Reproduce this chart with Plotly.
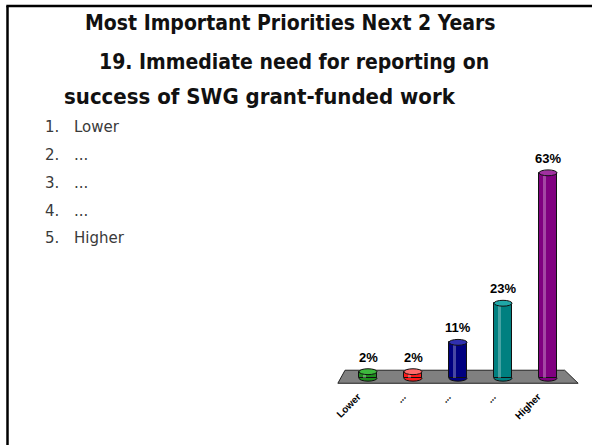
import plotly.graph_objects as go

categories = ["Lower", "...", "...", "...", "Higher"]
values = [2, 2, 11, 23, 63]
value_labels = ["2%", "2%", "11%", "23%", "63%"]
bar_colors = ["#1E8C1E", "#FF1A1A", "#000080", "#008080", "#800080"]
cap_colors = ["#3DB83D", "#FF6A6A", "#3030B0", "#20A8A8", "#A030A0"]
title_lines = ["Most Important Priorities Next 2 Years",
               "19. Immediate need for reporting on",
               "success of SWG grant-funded work"]
list_numbers = ["1.", "2.", "3.", "4.", "5."]
list_items = ["Lower", "...", "...", "...", "Higher"]

W, H = 592, 445
ML, MR, MT, MB = 332, 8, 150, 57.2
PW, PH = W - ML - MR, H - MT - MB


def px(xp):
    return (xp - ML) / PW


def py(yp):
    return (H - MB - yp) / PH


xs = list(range(len(categories)))
fig = go.Figure()
fig.add_trace(go.Bar(
    x=xs, y=values, width=0.4,
    marker=dict(color=bar_colors, line=dict(color="#111111", width=1)),
    hoverinfo="skip", showlegend=False,
))
# highlight stripe to suggest cylinder shine
fig.add_trace(go.Bar(
    x=xs, y=values, width=0.07, offset=-0.12,
    marker=dict(color="rgba(255,255,255,0.28)", line=dict(width=0)),
    hoverinfo="skip", showlegend=False,
))

shapes = []
# floor plate
shapes.append(dict(type="path", xref="x", yref="y", layer="below",
                   path="M -0.51 2.45 L 4.37 2.45 L 4.67 -1.55 L -0.67 -1.55 Z",
                   fillcolor="#808080", line=dict(color="#222222", width=1)))
cap_h = 0.9
for i, v in enumerate(values):
    shapes.append(dict(type="circle", xref="x", yref="y", layer="below",
                       x0=i - 0.2, x1=i + 0.2, y0=-cap_h, y1=cap_h,
                       fillcolor=bar_colors[i], line=dict(color="#111111", width=1)))
    shapes.append(dict(type="circle", xref="x", yref="y", layer="above",
                       x0=i - 0.2, x1=i + 0.2, y0=v - cap_h, y1=v + cap_h,
                       fillcolor=cap_colors[i], line=dict(color="#111111", width=1)))

annotations = []
for i, (v, lab) in enumerate(zip(values, value_labels)):
    annotations.append(dict(x=i, y=v, xref="x", yref="y", text="<b>" + lab + "</b>",
                            showarrow=False, yanchor="bottom", yshift=5,
                            font=dict(family="Liberation Sans, Arial", size=13, color="#000000")))

title_y = [23, 62, 97]
title_x = [290, 294, 260]
title_sizes = [21, 21, 22]
for t, ty, tx, ts in zip(title_lines, title_y, title_x, title_sizes):
    annotations.append(dict(x=px(tx), y=py(ty), xref="paper", yref="paper",
                            text="<b>" + t + "</b>", showarrow=False,
                            xanchor="center", yanchor="middle",
                            font=dict(family="DejaVu Sans Condensed, DejaVu Sans", size=ts,
                                      color="#111111")))

list_y = [127, 155, 183, 211, 238]
for n, item, ly in zip(list_numbers, list_items, list_y):
    annotations.append(dict(x=px(43), y=py(ly), xref="paper", yref="paper",
                            text=n, showarrow=False, xanchor="left", yanchor="middle",
                            font=dict(family="DejaVu Sans", size=15, color="#3a3a3a")))
    annotations.append(dict(x=px(72), y=py(ly), xref="paper", yref="paper",
                            text=item, showarrow=False, xanchor="left", yanchor="middle",
                            font=dict(family="DejaVu Sans", size=15, color="#3a3a3a")))

# slide border (left and top)
shapes.append(dict(type="line", xref="paper", yref="paper",
                   x0=px(7.5), x1=px(7.5), y0=py(450), y1=py(6),
                   line=dict(color="#000000", width=2.5)))
shapes.append(dict(type="line", xref="paper", yref="paper",
                   x0=px(6.3), x1=px(600), y0=py(6), y1=py(6),
                   line=dict(color="#000000", width=2.5)))

fig.update_layout(
    width=W, height=H,
    margin=dict(l=ML, r=MR, t=MT, b=MB, pad=0),
    paper_bgcolor="white", plot_bgcolor="rgba(0,0,0,0)",
    bargap=0, barmode="overlay",
    xaxis=dict(range=[-0.8, 4.8], tickmode="array", tickvals=xs,
               ticktext=["<b>" + c + "</b>" for c in categories],
               tickangle=-45, ticklabelshift=-10,
               showgrid=False, zeroline=False, showline=False,
               ticks="", tickfont=dict(family="Liberation Sans, Arial", size=10, color="#000000"),
               fixedrange=True),
    yaxis=dict(range=[-3, 70], visible=False, fixedrange=True),
    shapes=shapes, annotations=annotations,
)
fig.write_html("out.html", config=dict(displayModeBar=False),
               post_script="document.body.style.margin='0';document.body.style.overflow='hidden';")
